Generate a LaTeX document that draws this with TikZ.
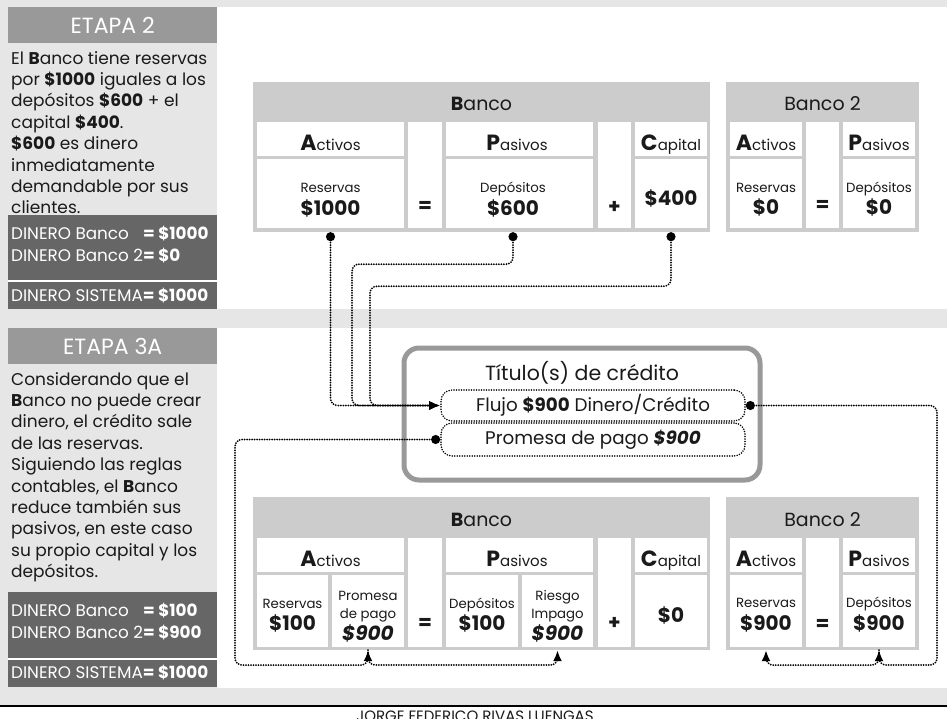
\documentclass[tikz,border=0pt]{standalone}
\usepackage{fontspec}
\setmainfont{Poppins}
\usetikzlibrary{arrows.meta}
\definecolor{bgg}{HTML}{E6E6E6}
\definecolor{hdr}{HTML}{999999}
\definecolor{dk}{HTML}{666666}
\definecolor{tbl}{HTML}{CCCCCC}
\definecolor{txt}{HTML}{1A1A1A}
\newcommand{\fsz}[1]{\fontsize{#1}{#1}\selectfont}
\newcommand{\BigL}[1]{{\fsz{22}\bfseries #1}}
\newlength\wBk
\begin{document}
\begin{tikzpicture}[x=1pt,y=-1pt,
  every node/.style={inner sep=0pt, text=txt},
  cellbox/.style={fill=white},
  tablebg/.style={fill=tbl},
  hdtxt/.style={font=\fsz{19}, anchor=base},
  colhd/.style={font=\fsz{15}, anchor=base},
  smtxt/.style={font=\fsz{13.3}, anchor=base},
  valtxt/.style={font=\fsz{20}\bfseries, anchor=base},
  optxt/.style={font=\fsz{20}\bfseries, anchor=center},
  stagehd/.style={fill=hdr, text=white, font=\fsz{22}, minimum width=209pt, minimum height=36pt, anchor=north west},
  bodytxt/.style={font=\fontsize{17}{21.4}\selectfont, align=left, anchor=north west},
  dinbox/.style={fill=dk, minimum width=209pt, anchor=north west},
  dintxt/.style={font=\fsz{16.8}, text=white, anchor=base west},
  conn/.style={line width=2pt, line cap=round, dash pattern=on 0pt off 2.5pt, rounded corners=7pt},
  pill/.style={draw=black, line width=1.7pt, line cap=round, dash pattern=on 0pt off 2.5pt, rounded corners=11pt, minimum width=304pt, font=\fsz{18.3}},
  dottip/.tip={Circle[length=9pt,width=9pt]},
  arrtip/.tip={Latex[length=11pt,width=9pt]}
]
\useasboundingbox (0,0) rectangle (947,718);
% ---------- background ----------
\fill[bgg] (0,0) rectangle (947,718);
\fill[white] (217,7) rectangle (947,309);
\fill[white] (217,328) rectangle (947,688);
\fill[white] (0,707) rectangle (947,718);
\draw[black, line width=2pt] (0,706) -- (947,706);
\node[font=\fsz{15}, anchor=north] (autor) at (475,710.5) {JORGE FEDERICO RIVAS LUENGAS};

% ---------- stage 2 left panel ----------
\node[stagehd] (e2) at (8,7) {ETAPA 2};
\node[bodytxt] (t2) at (11,51) {El \textbf{B}anco tiene reservas\\
por \textbf{\$1000} iguales a los\\
depósitos \textbf{\$600} + el\\
capital \textbf{\$400}.\\
\textbf{\$600} es dinero\\
inmediatamente\\
demandable por sus\\
clientes.};
\node[dinbox, minimum height=94pt] (d2) at (8,215) {};
\node[dintxt] (d2a) at (11,239) {\settowidth{\wBk}{DINERO Banco 2}\makebox[\wBk][l]{DINERO Banco}\textbf{= \$1000}};
\node[dintxt] (d2b) at (11,261) {DINERO Banco 2\textbf{= \$0}};
\draw[white, line width=1.5pt] (d2.west |- 0,281) -- (d2.east |- 0,281);
\node[dintxt] (d2c) at (11,301) {DINERO SISTEMA\textbf{= \$1000}};

% ---------- stage 3A left panel ----------
\node[stagehd] (e3) at (8,328) {ETAPA 3A};
\node[bodytxt] (t3) at (11,372) {Considerando que el\\
\textbf{B}anco no puede crear\\
dinero, el crédito sale\\
de las reservas.\\
Siguiendo las reglas\\
contables, el \textbf{B}anco\\
reduce también sus\\
pasivos, en este caso\\
su propio capital y los\\
depósitos.};
\node[dinbox, minimum height=95pt] (d3) at (8,592) {};
\node[dintxt] (d3a) at (11,616) {\settowidth{\wBk}{DINERO Banco 2}\makebox[\wBk][l]{DINERO Banco}\textbf{= \$100}};
\node[dintxt] (d3b) at (11,638) {DINERO Banco 2\textbf{= \$900}};
\draw[white, line width=1.5pt] (d3.west |- 0,659) -- (d3.east |- 0,659);
\node[dintxt] (d3c) at (11,678) {DINERO SISTEMA\textbf{= \$1000}};

% ---------- top Banco ----------
\node[tablebg, minimum width=457pt, minimum height=150pt] (b1) at (481.5,157) {};
\node[hdtxt] (b1t) at (481.5,110) {\textbf{B}anco};
\node[cellbox, minimum width=147pt, minimum height=34pt] (b1a) at (330.5,139) {};
\node[cellbox, minimum width=34pt, minimum height=106pt] (b1eq) at (425,175) {};
\node[cellbox, minimum width=147pt, minimum height=34pt] (b1p) at (519.5,139) {};
\node[cellbox, minimum width=33pt, minimum height=106pt] (b1pl) at (614.5,175) {};
\node[cellbox, minimum width=72pt, minimum height=34pt] (b1c) at (671,139) {};
\node[cellbox, minimum width=147pt, minimum height=69pt] (b1r) at (330.5,193.5) {};
\node[cellbox, minimum width=147pt, minimum height=69pt] (b1d) at (519.5,193.5) {};
\node[cellbox, minimum width=72pt, minimum height=69pt] (b1cv) at (671,193.5) {};
\node[colhd] (b1at) at (330.5,150) {\BigL{A}ctivos};
\node[colhd] (b1pt) at (517,150) {\BigL{P}asivos};
\node[colhd] (b1ct) at (671,150) {\BigL{C}apital};
\node[optxt] (b1eqt) at (425,207) {=};
\node[optxt] (b1plt) at (614.5,207) {+};
\node[smtxt] (b1rs) at (330.5,192) {Reservas};
\node[valtxt] (b1rv) at (330.5,215) {\$1000};
\node[smtxt] (b1ds) at (513,192) {Depósitos};
\node[valtxt] (b1dv) at (513,215) {\$600};
\node[valtxt] (b1cvt) at (671,205) {\$400};

% ---------- top Banco 2 ----------
\node[tablebg, minimum width=193pt, minimum height=150pt] (b2) at (822.5,157) {};
\node[hdtxt] (b2t) at (822.5,110) {Banco 2};
\node[cellbox, minimum width=72pt, minimum height=34pt] (b2a) at (766,139) {};
\node[cellbox, minimum width=33pt, minimum height=106pt] (b2eq) at (822.5,175) {};
\node[cellbox, minimum width=72pt, minimum height=34pt] (b2p) at (879,139) {};
\node[cellbox, minimum width=72pt, minimum height=69pt] (b2r) at (766,193.5) {};
\node[cellbox, minimum width=72pt, minimum height=69pt] (b2d) at (879,193.5) {};
\node[colhd] (b2at) at (766,150) {\BigL{A}ctivos};
\node[colhd] (b2pt) at (879,150) {\BigL{P}asivos};
\node[optxt] (b2eqt) at (822.5,206) {=};
\node[smtxt] (b2rs) at (766,192) {Reservas};
\node[valtxt] (b2rv) at (766,214) {\$0};
\node[smtxt] (b2ds) at (879,192) {Depósitos};
\node[valtxt] (b2dv) at (879,214) {\$0};

% ---------- bottom Banco ----------
\node[tablebg, minimum width=457pt, minimum height=153pt] (c1) at (481.5,573.5) {};
\node[hdtxt] (c1t) at (481.5,526) {\textbf{B}anco};
\node[cellbox, minimum width=147pt, minimum height=34pt] (c1a) at (330.5,555) {};
\node[cellbox, minimum width=34pt, minimum height=109pt] (c1eq) at (425,592.5) {};
\node[cellbox, minimum width=147pt, minimum height=34pt] (c1p) at (519.5,555) {};
\node[cellbox, minimum width=33pt, minimum height=109pt] (c1pl) at (614.5,592.5) {};
\node[cellbox, minimum width=72pt, minimum height=34pt] (c1c) at (671,555) {};
\node[cellbox, minimum width=71pt, minimum height=72pt] (c1r) at (292.5,611) {};
\node[cellbox, minimum width=72pt, minimum height=72pt] (c1pr) at (368,611) {};
\node[cellbox, minimum width=72pt, minimum height=72pt] (c1d) at (482,611) {};
\node[cellbox, minimum width=71pt, minimum height=72pt] (c1ri) at (557.5,611) {};
\node[cellbox, minimum width=72pt, minimum height=72pt] (c1cv) at (671,611) {};
\node[colhd] (c1at) at (330.5,566) {\BigL{A}ctivos};
\node[colhd] (c1pt) at (517,566) {\BigL{P}asivos};
\node[colhd] (c1ct) at (671,566) {\BigL{C}apital};
\node[optxt] (c1eqt) at (425,624) {=};
\node[optxt] (c1plt) at (614.5,623) {+};
\node[smtxt] (c1rs) at (292.5,608) {Reservas};
\node[valtxt] (c1rv) at (292.5,630) {\$100};
\node[smtxt] (c1ps1) at (368,600) {Promesa};
\node[smtxt] (c1ps2) at (368,618) {de pago};
\node[valtxt] (c1pv) at (368,640) {\itshape \$900};
\node[smtxt] (c1ds) at (482,608) {Depósitos};
\node[valtxt] (c1dv) at (482,630) {\$100};
\node[smtxt] (c1is1) at (557.5,600) {Riesgo};
\node[smtxt] (c1is2) at (557.5,618) {Impago};
\node[valtxt] (c1iv) at (557.5,640) {\itshape \$900};
\node[valtxt] (c1cvt) at (671,622) {\$0};

% ---------- bottom Banco 2 ----------
\node[tablebg, minimum width=193pt, minimum height=153pt] (c2) at (822.5,573.5) {};
\node[hdtxt] (c2t) at (822.5,526) {Banco 2};
\node[cellbox, minimum width=72pt, minimum height=34pt] (c2a) at (766,555) {};
\node[cellbox, minimum width=33pt, minimum height=109pt] (c2eq) at (822.5,592.5) {};
\node[cellbox, minimum width=72pt, minimum height=34pt] (c2p) at (879,555) {};
\node[cellbox, minimum width=72pt, minimum height=72pt] (c2r) at (766,611) {};
\node[cellbox, minimum width=72pt, minimum height=72pt] (c2d) at (879,611) {};
\node[colhd] (c2at) at (766,566) {\BigL{A}ctivos};
\node[colhd] (c2pt) at (879,566) {\BigL{P}asivos};
\node[optxt] (c2eqt) at (822.5,625) {=};
\node[smtxt] (c2rs) at (766,607) {Reservas};
\node[valtxt] (c2rv) at (766,630) {\$900};
\node[smtxt] (c2ds) at (879,607) {Depósitos};
\node[valtxt] (c2dv) at (879,630) {\$900};

% ---------- title box ----------
\node[draw=hdr, line width=5pt, rounded corners=15pt, minimum width=356pt, minimum height=132pt] (tit) at (582,414) {};
\node[font=\fsz{20.5}, anchor=base] (titt) at (582,380) {Título(s) de crédito};
\node[pill, minimum height=31pt] (flujo) at (593,405.5) {Flujo \textbf{\$900} Dinero/Crédito};
\node[pill, minimum height=33pt] (prom) at (593,439.5) {Promesa de pago \textbf{\itshape \$900}};

% ---------- connectors ----------
\draw[conn, dottip-arrtip] ([yshift=-4pt]b1r.south) |- (flujo.west);
\draw[conn, dottip-arrtip] ([yshift=-4pt]b1d.south -| b1ds.south) -- ++(0,32) -| (352,405.5) -- (flujo.west);
\draw[conn, dottip-arrtip] ([yshift=-4pt]b1cv.south) -- ++(0,54) -| (370,405.5) -- (flujo.west);
\draw[conn, dottip-arrtip] (prom.west) -| (235,665) -| ([yshift=-3pt]c1pr.south);
\draw[conn, -arrtip] ([yshift=-3pt]c1pr.south) |- (460,665) -| ([yshift=-3pt]c1ri.south);
\draw[conn, dottip-arrtip] (flujo.east) -| (937,665) -| ([yshift=-3pt]c2d.south);
\draw[conn, -arrtip] ([yshift=-3pt]c2d.south) |- (820,665) -| ([yshift=-3pt]c2r.south);
\end{tikzpicture}
\end{document}
